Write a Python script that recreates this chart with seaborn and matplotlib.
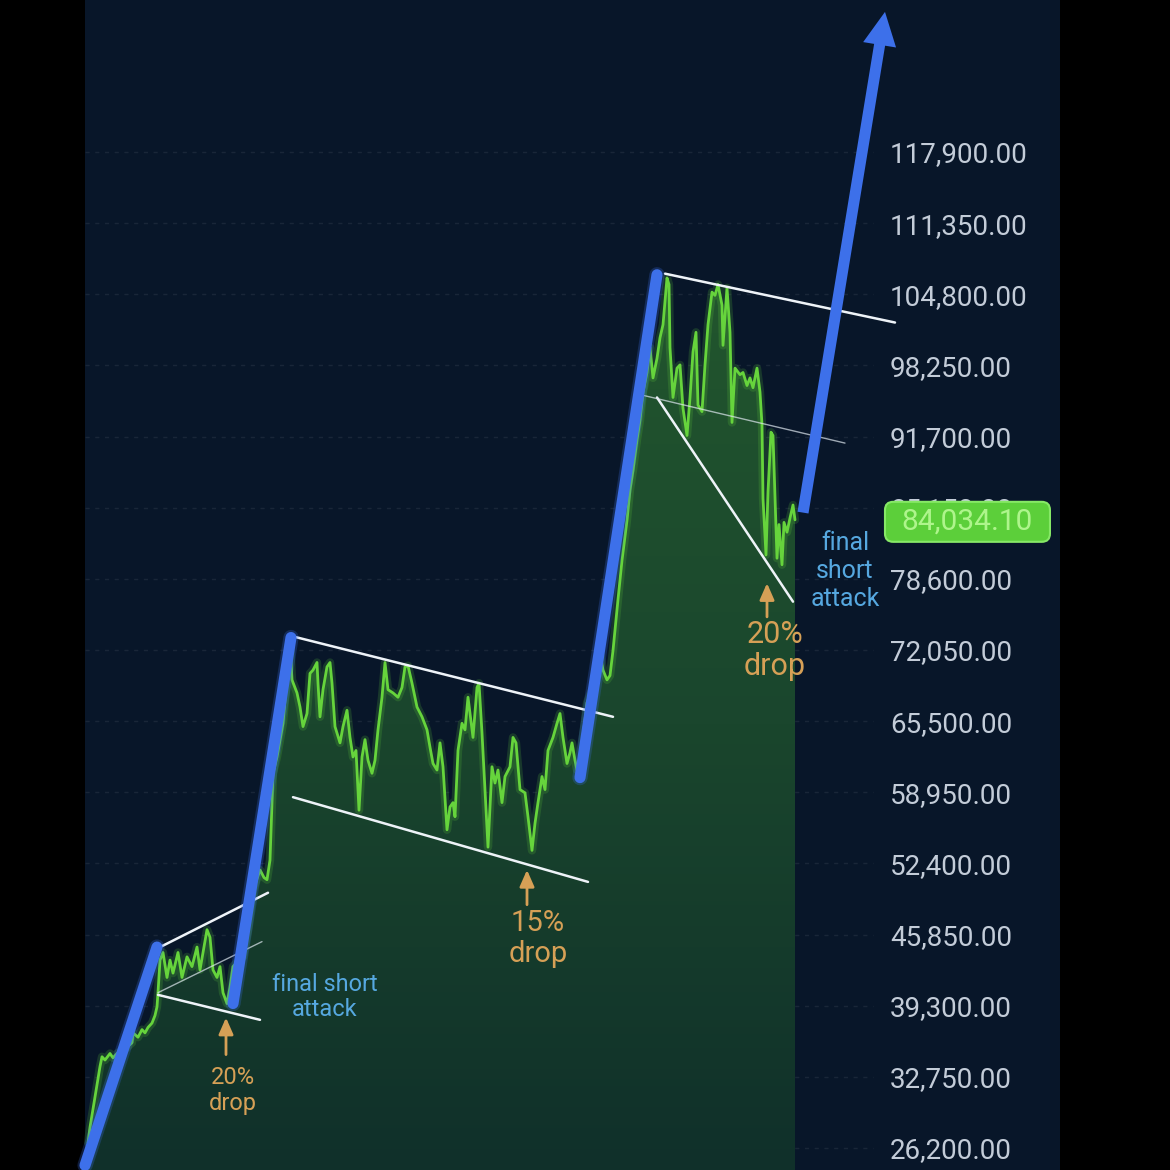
import numpy as np
import matplotlib
matplotlib.use("Agg")
import matplotlib.pyplot as plt
import seaborn as sns
from matplotlib.colors import LinearSegmentedColormap
from matplotlib.patches import FancyArrowPatch, FancyBboxPatch, ArrowStyle

# price track (x = day index from the left edge of the panel)
days = [3, 5, 10, 15, 17, 20, 25, 28, 32, 40, 47, 48, 53, 57, 60, 63, 67, 70, 72, 73,
        75, 78, 82, 85, 88, 93, 97, 102, 107, 112, 115, 118, 122, 125, 128, 132, 135,
        138, 142, 145, 148, 152, 158, 163, 168, 175, 179, 182, 185, 188, 192, 198, 202,
        205, 207, 212, 215, 218, 222, 225, 228, 232, 233, 235, 238, 242, 245, 247, 250,
        255, 258, 262, 265, 268, 271, 274, 277, 280, 283, 287, 290, 293, 297, 300, 303,
        308, 313, 317, 320, 323, 327, 332, 337, 342, 345, 348, 352, 355, 358, 362, 365,
        368, 370, 373, 377, 380, 383, 388, 392, 394, 397, 400, 403, 407, 410, 413, 417,
        420, 425, 428, 431, 435, 440, 443, 447, 450, 453, 457, 460, 463, 468, 472, 475,
        478, 482, 485, 487, 490, 492, 495, 500, 502, 508, 515, 518, 522, 525, 528, 533,
        537, 542, 545, 548, 552, 555, 558, 562, 565, 568, 572, 575, 578, 582, 584, 585,
        588, 592, 595, 598, 602, 605, 608, 611, 613, 617, 620, 623, 627, 630, 633, 637,
        638, 642, 645, 647, 650, 655, 658, 662, 665, 668, 672, 675, 677, 678, 681, 683,
        686, 688, 690, 692, 694, 697, 699, 702, 705, 708, 710]
prices = [26700, 28100, 30900, 33700, 34600, 34300, 34900, 34500, 34900, 35300, 35900,
          36800, 36400, 37100, 36800, 37300, 37700, 38400, 39200, 40500, 43500, 44200,
          41900, 43500, 42300, 44200, 41900, 43800, 42900, 44700, 42600, 44200, 46300,
          45600, 42600, 41900, 42900, 40500, 39500, 41000, 42900, 43300, 43800, 46300,
          49900, 51800, 51100, 50900, 52700, 60700, 62200, 65300, 69500, 73000, 69300,
          68100, 66800, 65000, 66200, 69900, 70200, 70900, 69000, 65900, 68400, 70500,
          70900, 69000, 65000, 63500, 65000, 66500, 64000, 62200, 62800, 57300, 62200,
          63800, 61900, 60700, 61900, 64700, 67700, 70900, 68400, 68100, 67700, 68600,
          70500, 70600, 69000, 66800, 65900, 64700, 63100, 61600, 61000, 63500, 61300,
          55500, 57600, 58000, 56700, 62800, 65300, 64700, 67700, 64000, 68600, 69000,
          64400, 59200, 53900, 61300, 59800, 61000, 58000, 60400, 61300, 64000, 63500,
          59200, 58900, 56700, 53600, 56100, 58000, 60400, 59200, 62800, 64000, 65300,
          66200, 64000, 61600, 62600, 63500, 61900, 61000, 61900, 65600, 67200, 68600,
          71800, 70200, 69300, 69700, 72000, 76700, 80300, 84000, 86800, 88600, 91400,
          93200, 95800, 97600, 99900, 97100, 98900, 100800, 102000, 106300, 105700,
          99900, 95300, 98000, 98300, 94300, 91800, 95300, 99500, 101300, 94600, 94000,
          98300, 102000, 105000, 104700, 105700, 103800, 100100, 105400, 101300, 93000,
          98000, 97400, 97600, 96400, 97100, 96200, 98000, 95800, 92800, 86000, 80800,
          86600, 92100, 91800, 86000, 80500, 83600, 79900, 83800, 82900, 84200, 85400,
          84034.10]
last_price = 84034.10

# price levels on the right axis
tick_levels = [26200, 32750, 39300, 45850, 52400, 58950, 65500, 72050, 78600,
               85150, 91700, 98250, 104800, 111350, 117900]

# thick blue impulse legs and the projected leg
impulse_days = [(0, 72), (148, 206), (495, 572)]
impulse_prices = [(24600, 44700), (39500, 73200), (60300, 106600)]
target_days = (718, 800)
target_prices = (84700, 130800)

# white channel lines (bold) and the faint mid lines
channel_days = [(73, 183), (73, 175), (208, 528), (208, 503), (580, 810), (572, 708)]
channel_prices = [(44600, 49700), (40300, 38000), (73300, 65900), (58500, 50700),
                  (106700, 102200), (95300, 76500)]
mid_days = [(73, 177), (558, 760)]
mid_prices = [(40500, 45200), (95500, 91100)]

# drop notes
drop_labels = ["20%\ndrop", "15%\ndrop", "20%\ndrop"]
drop_days = [148, 453, 690]
drop_prices = [31500, 45500, 72000]
arrow_days = [141, 442, 682]
arrow_from = [34800, 48600, 75100]
arrow_to = [38200, 51800, 78200]

sns.set_theme(style="dark")
plt.rcParams["font.family"] = ["Roboto", "DejaVu Sans"]

navy = "#081629"
blue = "#3d70ea"
green = "#66d43c"
orange = "#d6a056"
note_blue = "#56a8e0"

fig = plt.figure(figsize=(11.7, 11.7), dpi=100, facecolor="black")
ax = fig.add_axes([0, 0, 1, 1])
ax.set_facecolor("black")
ymin, ymax = 24174, 131895
xmin, xmax = -85, 1085

ax.axvspan(0, 975, color=navy, lw=0, zorder=0)

# faint dashed price grid
ax.hlines(tick_levels, 0, 788, colors="#ffffff", alpha=0.07, lw=1,
          linestyles=(0, (3, 4)), zorder=0.5)

# gradient fill under the price
poly = ax.fill_between(days, prices, ymin, color="none", lw=0)
cmap = LinearSegmentedColormap.from_list("fill", ["#10302a", "#1a462d", "#22562d"])
grad = np.linspace(0, 1, 256).reshape(-1, 1)
im = ax.imshow(grad, extent=[days[0], days[-1], ymin, max(prices)], cmap=cmap,
               aspect="auto", origin="lower", zorder=1)
im.set_clip_path(poly.get_paths()[0], transform=ax.transData)

# price line with a soft glow
sns.lineplot(x=days, y=prices, ax=ax, color=green, lw=6, alpha=0.18,
             estimator=None, zorder=2)
sns.lineplot(x=days, y=prices, ax=ax, color=green, lw=2, estimator=None, zorder=3)

for (d0, d1), (p0, p1) in zip(channel_days, channel_prices):
    ax.plot([d0, d1], [p0, p1], color="#eef3f8", lw=1.8, zorder=4)
for (d0, d1), (p0, p1) in zip(mid_days, mid_prices):
    ax.plot([d0, d1], [p0, p1], color="#dfe8f0", lw=1.0, alpha=0.7, zorder=4)

for (d0, d1), (p0, p1) in zip(impulse_days, impulse_prices):
    ax.plot([d0, d1], [p0, p1], color=blue, lw=11, alpha=0.25, zorder=5)
    ax.plot([d0, d1], [p0, p1], color=blue, lw=8, zorder=5)

arrow = FancyArrowPatch((target_days[0], target_prices[0]), (target_days[1], target_prices[1]),
                        arrowstyle=ArrowStyle.Simple(head_length=2.4, head_width=2.4, tail_width=0.8),
                        mutation_scale=10, color=blue, lw=0, shrinkA=0, shrinkB=0, zorder=5)
ax.add_patch(arrow)

for lab, d, p, ad, a0, a1, fs in zip(drop_labels, drop_days, drop_prices, arrow_days,
                                      arrow_from, arrow_to, [17, 21, 22]):
    ax.text(d, p, lab, ha="center", va="center", fontsize=fs, color=orange,
            linespacing=1.15, zorder=6)
    ax.annotate("", xy=(ad, a1), xytext=(ad, a0),
                arrowprops=dict(arrowstyle="-|>,head_length=0.5,head_width=0.22",
                                color=orange, lw=2, mutation_scale=20,
                                shrinkA=0, shrinkB=0), zorder=6)

ax.text(240, 40100, "final short\nattack", ha="center", va="center", fontsize=17,
        color=note_blue, linespacing=1.15, zorder=6)
ax.text(760, 79300, "final\nshort\nattack", ha="center", va="center", fontsize=18,
        color=note_blue, linespacing=1.2, zorder=6)

# right hand price scale drawn inside the panel
ax.set_xlim(xmin, xmax)
ax.set_ylim(ymin, ymax)
ax.set_xticks([])
ax.set_yticks(tick_levels)
ax.set_yticklabels([f"{v:,.2f}" for v in tick_levels])
ax.yaxis.tick_right()
ax.tick_params(axis="y", length=0, pad=-201.6, labelsize=20, labelcolor="#c3ccd8")
ax.grid(False)
for s in ax.spines.values():
    s.set_visible(False)

# last price badge (sits over the 85,150 level, as on the screen)
yc = ax.transAxes.inverted().transform(ax.transData.transform((0, last_price)))[1]
yc -= 0.0017
badge = FancyBboxPatch((0.7564, yc - 0.0171), 0.141, 0.0342,
                       boxstyle="round,pad=0,rounding_size=0.007",
                       transform=ax.transAxes, fc="#5ccf3a", ec="#86e866", lw=1.5, zorder=7)
ax.add_patch(badge)
ax.text(0.8269, yc, f"{last_price:,.2f}", transform=ax.transAxes, ha="center",
        va="center", fontsize=21.5, color="#aef58c", zorder=8)

fig.savefig("out.png", dpi=100, facecolor="black")
